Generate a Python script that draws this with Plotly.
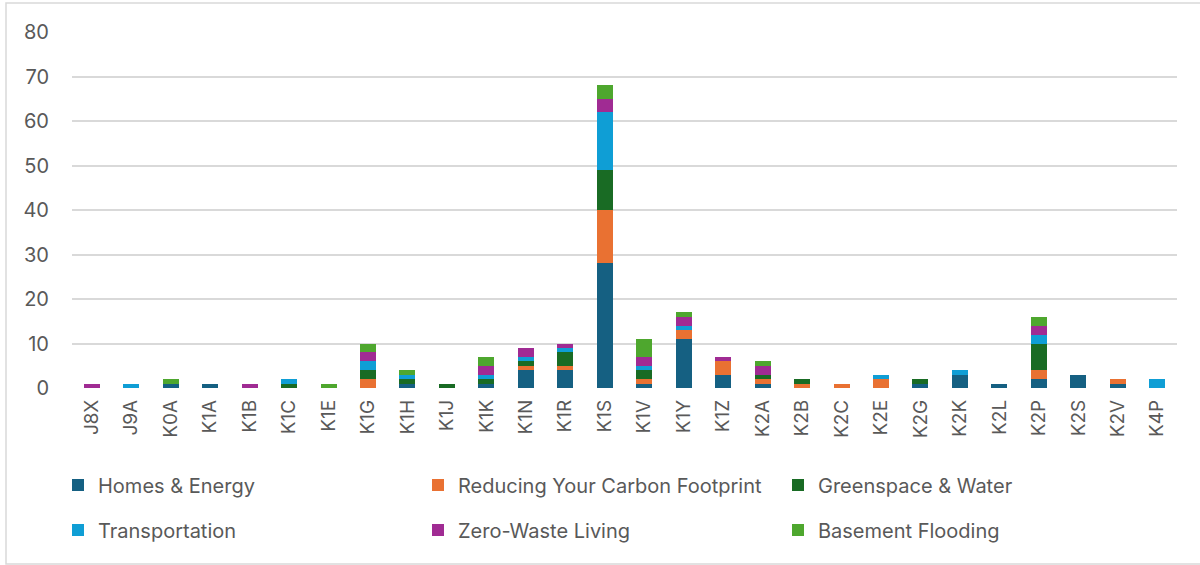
import plotly.graph_objects as go

categories = ["J8X", "J9A", "K0A", "K1A", "K1B", "K1C", "K1E", "K1G", "K1H", "K1J",
              "K1K", "K1N", "K1R", "K1S", "K1V", "K1Y", "K1Z", "K2A", "K2B", "K2C",
              "K2E", "K2G", "K2K", "K2L", "K2P", "K2S", "K2V", "K4P"]

homes_energy   = [0, 0, 1, 1, 0, 0, 0, 0, 1, 0, 1, 4, 4, 28, 1, 11, 3, 1, 0, 0, 0, 1, 3, 1, 2, 3, 1, 0]
carbon         = [0, 0, 0, 0, 0, 0, 0, 2, 0, 0, 0, 1, 1, 12, 1, 2, 3, 1, 1, 1, 2, 0, 0, 0, 2, 0, 1, 0]
greenspace     = [0, 0, 0, 0, 0, 1, 0, 2, 1, 1, 1, 1, 3, 9, 2, 0, 0, 1, 1, 0, 0, 1, 0, 0, 6, 0, 0, 0]
transportation = [0, 1, 0, 0, 0, 1, 0, 2, 1, 0, 1, 1, 1, 13, 1, 1, 0, 0, 0, 0, 1, 0, 1, 0, 2, 0, 0, 2]
zero_waste     = [1, 0, 0, 0, 1, 0, 0, 2, 0, 0, 2, 2, 1, 3, 2, 2, 1, 2, 0, 0, 0, 0, 0, 0, 2, 0, 0, 0]
basement       = [0, 0, 1, 0, 0, 0, 1, 2, 1, 0, 2, 0, 0, 3, 4, 1, 0, 1, 0, 0, 0, 0, 0, 0, 2, 0, 0, 0]

series = [
    ("Homes & Energy", homes_energy, "#156082", "legend"),
    ("Reducing Your Carbon Footprint", carbon, "#E97132", "legend"),
    ("Greenspace & Water", greenspace, "#196B24", "legend"),
    ("Transportation", transportation, "#0F9ED5", "legend2"),
    ("Zero-Waste Living", zero_waste, "#A02B93", "legend2"),
    ("Basement Flooding", basement, "#4EA72E", "legend2"),
]

y_ticks = [0, 10, 20, 30, 40, 50, 60, 70, 80]

fig = go.Figure()
for name, vals, color, leg in series:
    fig.add_trace(go.Bar(
        name=name, x=categories, y=vals, legend=leg,
        marker=dict(color=color, line=dict(width=0)),
    ))

W, H = 1200, 565
ml, mr, mt, mb = 72, 23, 32, 177
pw, ph = W - ml - mr, H - mt - mb
plot_bottom = H - mb

FONT = "Inter, Open Sans, sans-serif"
TXT = "#595959"

def legend_cfg(row_center_px):
    return dict(orientation="h", x=(58 - ml) / pw, xanchor="left",
                y=(plot_bottom - row_center_px) / ph, yanchor="middle",
                entrywidth=315, entrywidthmode="pixels", traceorder="normal",
                font=dict(family=FONT, size=20, color=TXT), bgcolor="rgba(0,0,0,0)")

fig.update_layout(
    width=W, height=H,
    barmode="stack", bargap=0.595,
    plot_bgcolor="white", paper_bgcolor="white",
    margin=dict(l=ml, r=mr, t=mt, b=mb, autoexpand=False),
    font=dict(family=FONT, color=TXT, size=19),
    xaxis=dict(tickangle=-90, showgrid=False, showline=False, zeroline=False,
               ticks="", ticklabelstandoff=7, tickfont=dict(family=FONT, size=19, color=TXT)),
    yaxis=dict(range=[0, 80], tickvals=y_ticks, showgrid=True, gridcolor="#D9D9D9",
               gridwidth=1.5, zeroline=False, showline=False, ticks="",
               ticklabelstandoff=22, tickfont=dict(family=FONT, size=20, color=TXT)),
    legend=legend_cfg(485),
    legend2=legend_cfg(530),
    shapes=[dict(type="rect", xref="paper", yref="paper",
                 x0=(6 - ml) / pw, x1=(1203 - ml) / pw,
                 y0=(plot_bottom - 564) / ph, y1=(plot_bottom - 3) / ph,
                 line=dict(color="#D9D9D9", width=1.5), fillcolor="rgba(0,0,0,0)",
                 layer="below")],
)

fig.write_html("out.html", config={"displayModeBar": False},
               post_script="document.body.style.margin='0';")
